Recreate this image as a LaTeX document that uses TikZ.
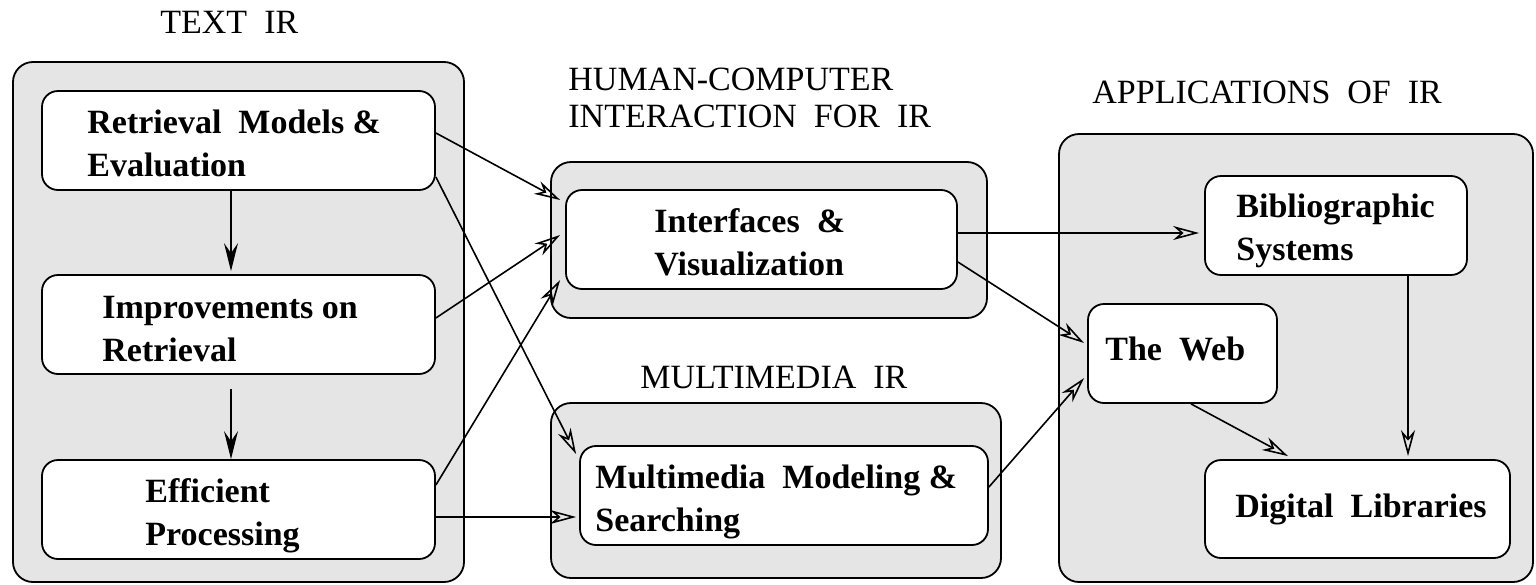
\documentclass[tikz,border=0pt]{standalone}
\usepackage{fontspec}
\setmainfont{Liberation Serif}
\usetikzlibrary{arrows.meta,fit,calc}
\definecolor{grpfill}{RGB}{229,229,229}
\begin{document}
\begin{tikzpicture}[x=0.5pt,y=-0.5pt,
  grp/.style={draw, fill=grpfill, rounded corners=10pt, line width=0.9pt, inner sep=0pt},
  inbox/.style={draw, fill=white, rounded corners=8pt, line width=0.9pt, inner sep=0pt},
  lbl/.style={font=\fontsize{17}{21.5}\selectfont\bfseries, inner sep=0pt, anchor=base west},
  ttl/.style={font=\fontsize{17}{18.5}\selectfont, inner sep=0pt, anchor=base west},
  oarr/.style={-{Stealth[open,length=13pt,width=7pt,inset=4pt]}, line width=0.8pt},
  farr/.style={-{Stealth[length=14pt,width=7pt,inset=5pt]}, line width=0.8pt}]
\useasboundingbox (0,0) rectangle (1536,584);

% group boxes
\node[grp, fit={(13,62)(464,582)}] (textg) {};
\node[grp, fit={(551,162)(987,318)}] (hcig) {};
\node[grp, fit={(551,403)(1001,578)}] (mmg) {};
\node[grp, fit={(1059,134)(1533,582)}] (appg) {};

% titles
\node[ttl] (ttext) at (160,33) {TEXT\ \ IR};
\node[ttl] (thci) at (568,90) {\begin{tabular}[t]{@{}l@{}}HUMAN-COMPUTER\\INTERACTION\ \ FOR\ \ IR\end{tabular}};
\node[ttl] (tmm) at (640,388) {MULTIMEDIA\ \ IR};
\node[ttl] (tapp) at (1092,103) {APPLICATIONS\ \ OF\ \ IR};

% inner boxes
\node[inbox, fit={(42,91)(435,190)}] (ret) {};
\node[inbox, fit={(42,275)(435,374)}] (imp) {};
\node[inbox, fit={(42,460)(435,559)}] (eff) {};
\node[inbox, fit={(566,190)(957,289)}] (intf) {};
\node[inbox, fit={(580,446)(988,545)}] (mm) {};
\node[inbox, fit={(1205,176)(1467,275)}] (bib) {};
\node[inbox, fit={(1088,304)(1277,403)}] (web) {};
\node[inbox, fit={(1205,460)(1510,558)}] (dl) {};

% labels
\node[lbl] (lret) at (87,133) {\begin{tabular}[t]{@{}l@{}}Retrieval\ \ Models \&\\Evaluation\end{tabular}};
\node[lbl] (limp) at (102,318) {\begin{tabular}[t]{@{}l@{}}Improvements on\\Retrieval\end{tabular}};
\node[lbl] (leff) at (145,502) {\begin{tabular}[t]{@{}l@{}}Efficient\\Processing\end{tabular}};
\node[lbl] (lintf) at (654,232) {\begin{tabular}[t]{@{}l@{}}Interfaces\ \ \&\\Visualization\end{tabular}};
\node[lbl] (lmm) at (595,488) {\begin{tabular}[t]{@{}l@{}}Multimedia\ \ Modeling \&\\Searching\end{tabular}};
\node[lbl] (lbib) at (1236,217) {\begin{tabular}[t]{@{}l@{}}Bibliographic\\Systems\end{tabular}};
\node[lbl] (lweb) at (1105,360) {The\ \ Web};
\node[lbl] (ldl) at (1235,517) {Digital\ \ Libraries};

% connectors inside TEXT IR
\draw[farr] ($(ret.south)+(-7.5,0)$) -- ($(imp.north)+(-7.5,-3)$);
\draw[farr] ($(imp.south)+(-7.5,14)$) -- ($(eff.north)+(-7.5,0)$);

% to Interfaces
\draw[oarr] ($(ret.east)+(0,-7.5)$) -- ($(intf.west)+(-5,-39.5)$);
\draw[oarr] ($(imp.east)+(0,-6.5)$) -- ($(intf.west)+(-5,-4.5)$);
\draw[oarr] ($(eff.east)+(0,-24.5)$) -- ($(intf.west)+(-5,40.5)$);

% to Multimedia
\draw[oarr] ($(ret.east)+(0,36.5)$) -- ($(mm.north west)+(-3,9)$);
\draw[oarr] ($(eff.east)+(0,7.5)$) -- ($(mm.west)+(-3,21.5)$);

% applications
\draw[oarr] ($(intf.east)+(0,-6.5)$) -- ($(bib.west)+(-5,7.5)$);
\draw[oarr] ($(intf.east)+(0,22.5)$) -- ($(web.west)+(-3,-10.5)$);
\draw[oarr] ($(mm.east)+(0,-8.5)$) -- ($(web.west)+(-3,24.5)$);
\draw[oarr] ($(web.south)+(8.5,0)$) -- ($(dl.north)+(-69.5,-3)$);
\draw[oarr] ($(bib.south)+(72,0)$) -- ($(dl.north)+(50.5,-3)$);
\end{tikzpicture}
\end{document}
